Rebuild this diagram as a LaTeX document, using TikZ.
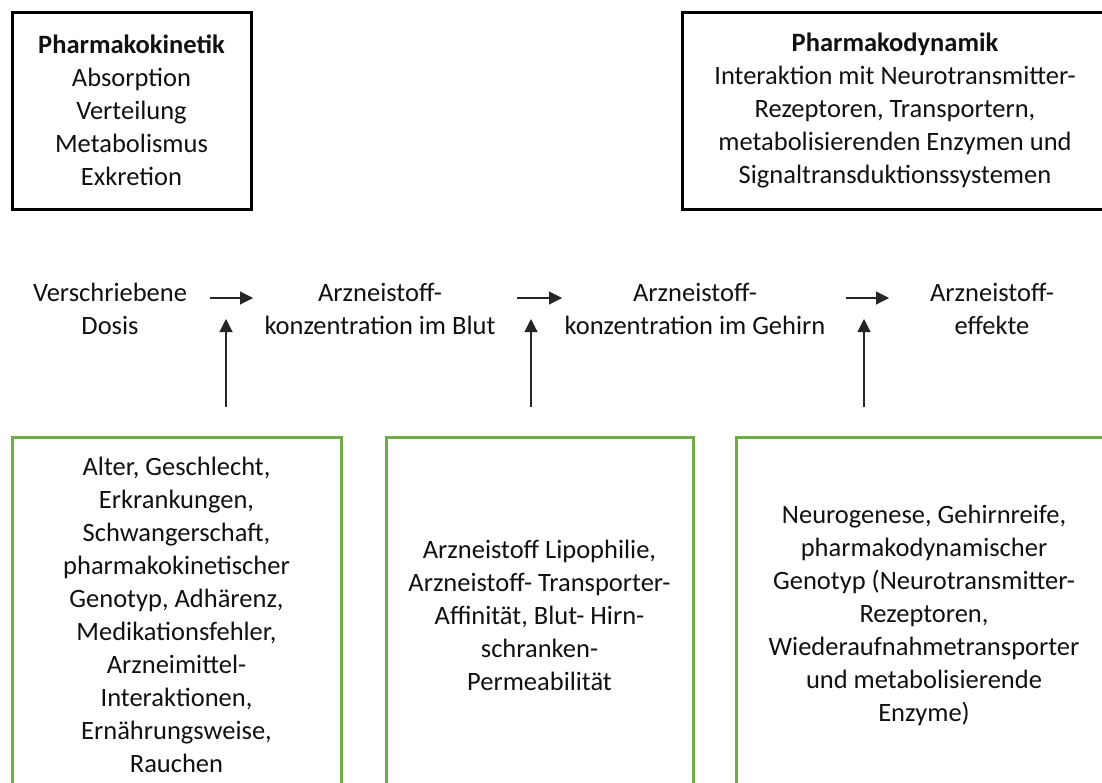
\documentclass[tikz,border=0pt]{standalone}
\usepackage{fontspec}
\setmainfont{Carlito}
\usetikzlibrary{arrows.meta}
\definecolor{boxgreen}{HTML}{70AD47}
\definecolor{txtcol}{HTML}{111111}
\begin{document}
\begin{tikzpicture}[x=1pt,y=-1pt,
  txt/.style={align=center, text=txtcol, font=\fontsize{26.5}{33}\selectfont, inner sep=0pt},
  blackbox/.style={txt, draw=black, line width=3pt},
  greenbox/.style={txt, draw=boxgreen, line width=3pt},
  arr/.style={-{Triangle[length=13pt,width=13pt]}, line width=1.1pt, draw=black!85}]
\clip (0,0) rectangle (1102,782);
\fill[white] (0,0) rectangle (1102,782);

% top boxes
\node[blackbox, minimum width=239pt, minimum height=197pt] (pk) at (131.5,110.5)
  {\textbf{Pharmakokinetik}\\Absorption\\Verteilung\\Metabolismus\\Exkretion};
\node[blackbox, minimum width=426pt, minimum height=197pt] (pd) at (895,110.5)
  {\textbf{Pharmakodynamik}\\Interaktion mit Neurotransmitter-\\Rezeptoren, Transportern,\\metabolisierenden Enzymen und\\Signaltransduktionssystemen};

% flow row
\node[txt] (dose) at (110,309) {Verschriebene\\Dosis};
\node[txt] (blut) at (380,309) {Arzneistoff-\\konzentration im Blut};
\node[txt] (gehirn) at (695,309) {Arzneistoff-\\konzentration im Gehirn};
\node[txt] (eff) at (992,309) {Arzneistoff-\\effekte};

% green boxes
\node[greenbox, minimum width=329pt, minimum height=356pt] (g1) at (176.5,615)
  {Alter, Geschlecht,\\Erkrankungen,\\Schwangerschaft,\\pharmakokinetischer\\Genotyp, Adhärenz,\\Medikationsfehler,\\Arzneimittel-\\Interaktionen,\\Ernährungsweise,\\Rauchen};
\node[greenbox, minimum width=307pt, minimum height=356pt] (g2) at (539.5,615)
  {Arzneistoff Lipophilie,\\Arzneistoff- Transporter-\\Affinität, Blut- Hirn-\\schranken-\\Permeabilität};
\node[greenbox, minimum width=376pt, minimum height=356pt] (g3) at (924,615)
  {Neurogenese, Gehirnreife,\\pharmakodynamischer\\Genotyp (Neurotransmitter-\\Rezeptoren,\\Wiederaufnahmetransporter\\und metabolisierende\\Enzyme)};

% arrow end points
\coordinate (h1s) at (210,298); \coordinate (h1e) at (253,298);
\coordinate (h2s) at (517,298); \coordinate (h2e) at (562,298);
\coordinate (h3s) at (846,298); \coordinate (h3e) at (889,298);
\coordinate (v1s) at (226,407); \coordinate (v1e) at (226,319);
\coordinate (v2s) at (531,407); \coordinate (v2e) at (531,319);
\coordinate (v3s) at (864,407); \coordinate (v3e) at (864,319);

\draw[arr] (h1s) -- (h1e);
\draw[arr] (h2s) -- (h2e);
\draw[arr] (h3s) -- (h3e);
\draw[arr] (v1s) -- (v1e);
\draw[arr] (v2s) -- (v2e);
\draw[arr] (v3s) -- (v3e);
\end{tikzpicture}
\end{document}
